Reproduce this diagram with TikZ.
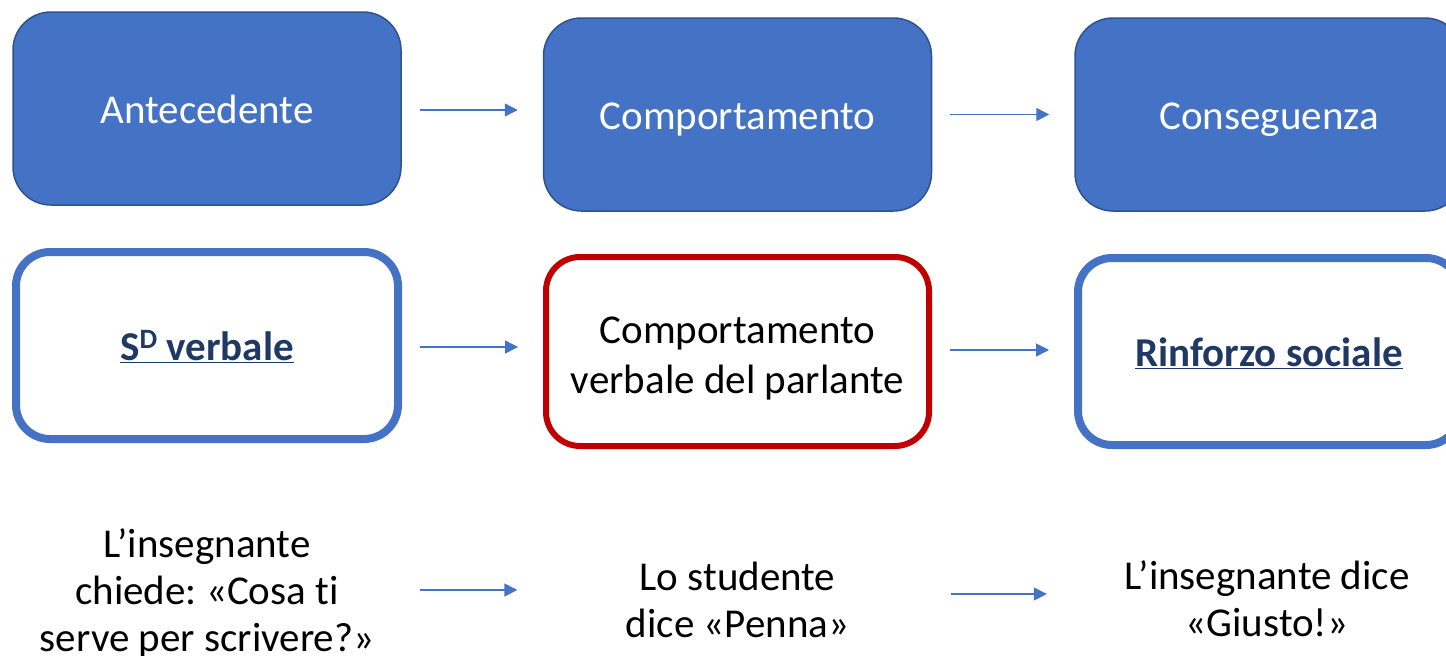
\documentclass[tikz,border=0pt]{standalone}
\usepackage{fontspec}
\setmainfont{Carlito}[Ligatures=NoCommon]
\frenchspacing
\usetikzlibrary{arrows.meta}
\definecolor{boxblue}{HTML}{4472C4}
\definecolor{boxedge}{HTML}{2F528F}
\definecolor{navy}{HTML}{1F3864}
\definecolor{darkred}{HTML}{C00000}
\newcommand{\supD}{\raisebox{0.62ex}{\fontsize{28}{28}\selectfont D}}
\tikzset{
  x=1pt, y=-1pt,
  topbox/.style={draw=boxedge, line width=1.5pt, fill=boxblue, rounded corners=38pt,
    minimum width=388pt, minimum height=193pt, inner sep=0pt, text=white,
    text height=36pt, text depth=6pt,
    font=\fontsize{41}{48}\selectfont},
  bluebox/.style={draw=boxblue, line width=8pt, fill=white, rounded corners=34pt,
    minimum width=382pt, minimum height=187pt, inner sep=0pt, text=navy,
    text height=36pt, text depth=6pt,
    font=\fontsize{41}{48}\selectfont\bfseries},
  redbox/.style={draw=darkred, line width=6pt, fill=white, rounded corners=34pt,
    minimum width=383pt, minimum height=189pt, inner sep=0pt, align=center,
    font=\fontsize{41}{50}\selectfont},
  plain/.style={minimum width=390pt, inner sep=0pt, align=center,
    font=\fontsize{41}{47}\selectfont},
  flow/.style={draw=boxblue, line width=1.5pt, -{Triangle[length=13pt,width=13pt]},
    shorten <=18pt, shorten >=25pt},
}
\begin{document}
\begin{tikzpicture}
\useasboundingbox (0,0) rectangle (1446,656);
\clip (0,0) rectangle (1446,656);
% row 1
\node[topbox] (A) at (207,108.5) {Antecedente};
\node[topbox] (B) at (737.5,114.5) {Comportamento};
\node[topbox] (C) at (1269,114.5) {Conseguenza};
% row 2
\node[bluebox] (D) at (207,345.5) {\underline{S\supD{} verbale}};
\node[redbox] (E) at (737.5,351.5) {\rule{0pt}{40pt}Comportamento\\verbale del parlante};
\node[bluebox] (F) at (1269,351.5) {\underline{Rinforzo sociale}};
% row 3
\node[plain] (G) at (207,593) {L’insegnante\\chiede: «Cosa ti\\serve per scrivere?»};
\node[plain] (H) at (737.5,600) {Lo studente\\dice «Penna»};
\node[plain] (I) at (1267,599) {L’insegnante dice\\«Giusto!»};
% arrows
\draw[flow] ([yshift=-1.5pt]A.east) -- ([yshift=-1.5pt]A.east -| B.west);
\draw[flow] (B.east) -- (B.east -| C.west);
\draw[flow] ([yshift=-1.5pt]D.east) -- ([yshift=-1.5pt]D.east -| E.west);
\draw[flow] ([yshift=1.5pt]E.east) -- ([yshift=1.5pt]E.east -| F.west);
\draw[flow] ([yshift=3pt]G.east) -- ([yshift=3pt]G.east -| H.west);
\draw[flow] ([yshift=6pt]H.east) -- ([yshift=6pt]H.east -| I.west);
\end{tikzpicture}
\end{document}
